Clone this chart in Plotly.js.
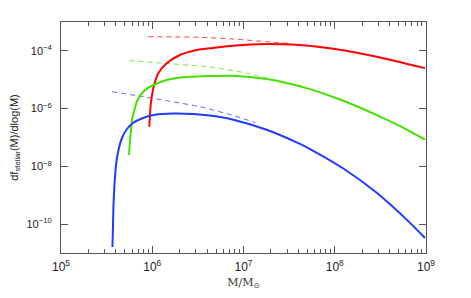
<!DOCTYPE html>
<html>
<head>
<meta charset="utf-8">
<script src="https://cdn.plot.ly/plotly-3.0.1.min.js"></script>
<style>html,body{margin:0;padding:0;background:#fff;}#chart{width:471px;height:298px;}</style>
</head>
<body>
<div id="chart"></div>
<script>
// log10(M/Msun) and log10(df/dlogM)
var redSolidLogM = [5.968, 5.983, 6.012, 6.066, 6.158, 6.304, 6.487, 6.633, 6.885, 7.254, 7.619, 7.838, 8.090, 8.460, 8.989];
var redSolidLogF = [-6.626, -5.874, -5.296, -4.777, -4.430, -4.143, -3.970, -3.911, -3.821, -3.762, -3.799, -3.865, -3.978, -4.200, -4.597];
var redDashLogM = [5.957, 6.523, 6.885, 7.254, 7.510];
var redDashLogF = [-3.509, -3.530, -3.589, -3.682, -3.745];

var greenSolidLogM = [5.745, 5.762, 5.781, 5.811, 5.833, 5.902, 6.012, 6.158, 6.340, 6.633, 6.888, 7.254, 7.510, 7.729, 8.094, 8.460, 8.715, 8.989];
var greenSolidLogF = [-7.606, -6.913, -6.325, -5.978, -5.736, -5.414, -5.182, -5.009, -4.915, -4.870, -4.860, -4.974, -5.140, -5.326, -5.728, -6.222, -6.604, -7.070];
var greenDashLogM = [5.748, 6.158, 6.633, 6.998, 7.254];
var greenDashLogF = [-4.340, -4.437, -4.558, -4.749, -4.939];

var blueSolidLogM = [5.564, 5.570, 5.575, 5.586, 5.603, 5.630, 5.668, 5.723, 5.789, 5.899, 6.030, 6.227, 6.447, 6.633, 6.888, 7.254, 7.619, 7.729, 8.094, 8.460, 8.825, 8.989];
var blueSolidLogF = [-10.792, -10.030, -9.338, -8.645, -7.952, -7.433, -7.017, -6.706, -6.498, -6.325, -6.215, -6.169, -6.186, -6.242, -6.382, -6.730, -7.223, -7.399, -8.074, -8.916, -9.956, -10.480];
var blueDashLogM = [5.559, 5.902, 6.158, 6.523, 6.888, 7.126];
var blueDashLogF = [-5.414, -5.587, -5.726, -5.933, -6.237, -6.481];

var xTickVals = [1e5, 1e6, 1e7, 1e8, 1e9];
var xTickText = ['10<sup>5</sup>', '10<sup>6</sup>', '10<sup>7</sup>', '10<sup>8</sup>', '10<sup>9</sup>'];
var yTickVals = [1e-10, 1e-8, 1e-6, 1e-4];
var yTickText = ['10<sup>\u221210</sup>', '10<sup>\u22128</sup>', '10<sup>\u22126</sup>', '10<sup>\u22124</sup>'];

function pow10(a) { return a.map(function (v) { return Math.pow(10, v); }); }

var RED = '#ff0000', GREEN = '#44e000', BLUE = '#1f3cff';

function solid(lx, ly, c) {
  return {x: pow10(lx), y: pow10(ly), mode: 'lines', line: {color: c, width: 2, shape: 'spline', smoothing: 0.6}, hoverinfo: 'skip', showlegend: false};
}
function dashed(lx, ly, c) {
  return {x: pow10(lx), y: pow10(ly), mode: 'lines', opacity: 0.75, line: {color: c, width: 1, dash: '5px,4px', shape: 'spline', smoothing: 0.6}, hoverinfo: 'skip', showlegend: false};
}

var data = [
  dashed(redDashLogM, redDashLogF, RED),
  dashed(greenDashLogM, greenDashLogF, GREEN),
  dashed(blueDashLogM, blueDashLogF, BLUE),
  solid(redSolidLogM, redSolidLogF, RED),
  solid(greenSolidLogM, greenSolidLogF, GREEN),
  solid(blueSolidLogM, blueSolidLogF, BLUE)
];

var axisCol = '#555555';
var layout = {
  width: 471, height: 298,
  margin: {l: 61, r: 45, t: 22, b: 45},
  paper_bgcolor: '#ffffff', plot_bgcolor: '#ffffff',
  font: {family: 'Liberation Sans, Arial, sans-serif', size: 11, color: '#222'},
  showlegend: false,
  xaxis: {
    type: 'log', range: [5, 9],
    tickmode: 'array', tickvals: xTickVals, ticktext: xTickText,
    ticks: 'inside', ticklen: 7, tickcolor: axisCol, tickwidth: 1,
    showline: true, linecolor: axisCol, linewidth: 1, mirror: 'ticks',
    showgrid: false, zeroline: false,
    minor: {ticks: 'inside', ticklen: 4, tickcolor: axisCol, dtick: 'D1', showgrid: false},
    tickfont: {size: 12, color: '#222'},
    ticklabelstandoff: 3,
    title: {text: 'M/M<sub>⊙</sub>', font: {family: 'DejaVu Serif, Liberation Serif, serif', size: 11, color: '#333'}, standoff: 4}
  },
  yaxis: {
    type: 'log', range: [-11, -3],
    tickmode: 'array', tickvals: yTickVals, ticktext: yTickText,
    ticks: 'inside', ticklen: 7, tickcolor: axisCol, tickwidth: 1,
    showline: true, linecolor: axisCol, linewidth: 1, mirror: 'ticks',
    showgrid: false, zeroline: false,
    tickfont: {size: 11, color: '#222'},
    ticklabelstandoff: 6,
    title: {text: 'df<sub>stellar</sub>(M)/dlog(M)', font: {size: 11, color: '#222'}, standoff: 5}
  }
};

Plotly.newPlot('chart', data, layout, {displayModeBar: false, staticPlot: true});
</script>
</body>
</html>
